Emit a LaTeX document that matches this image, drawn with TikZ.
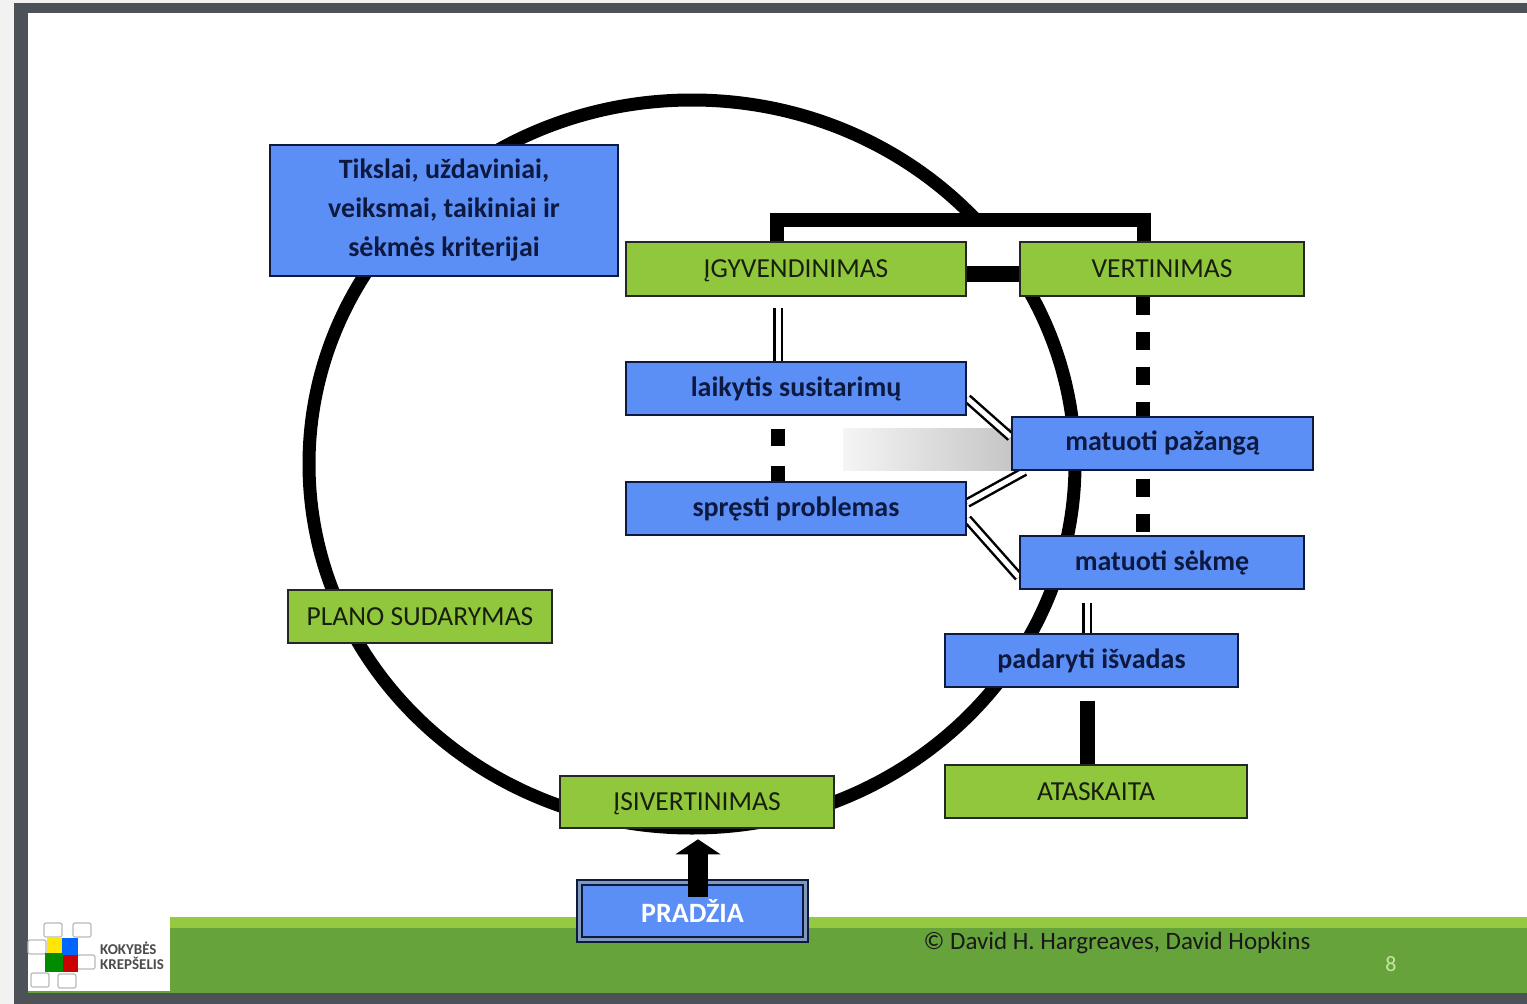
\documentclass[tikz,border=0pt]{standalone}
\usepackage{fontspec}
\setmainfont{Carlito}
\usepackage{tikz}
\usetikzlibrary{arrows.meta}
\definecolor{bluebox}{rgb}{0.36,0.56,0.96}
\definecolor{greenbox}{rgb}{0.57,0.78,0.24}
\definecolor{navyline}{rgb}{0.05,0.1,0.25}
\definecolor{darktext}{rgb}{0.1,0.12,0.06}
\definecolor{footlight}{rgb}{0.58,0.79,0.25}
\definecolor{footdark}{rgb}{0.4,0.64,0.23}
\definecolor{framegray}{rgb}{0.3,0.32,0.34}
\definecolor{pagegray}{rgb}{0.95,0.95,0.95}
\definecolor{bandgray}{rgb}{0.5,0.6,0.72}
\definecolor{pagenum}{rgb}{0.78,0.9,0.63}
\pgfdeclarelayer{bg}
\pgfsetlayers{bg,main}

\begin{document}
\begin{tikzpicture}[line cap=butt,line join=miter,x=1pt,y=-1pt,
	bluenode/.style={draw=navyline,line width=2.5pt,fill=bluebox,text=navyline,font=\fontsize{28}{39}\selectfont\bfseries,align=center,inner sep=0pt},
	greennode/.style={draw=black!85,line width=2.5pt,fill=greenbox,text=darktext,font=\fontsize{27.5}{31}\selectfont,inner sep=0pt,text depth=0pt},
	thickline/.style={line width=14pt,color=black},
	dashline/.style={line width=14pt,color=black,dash pattern=on 17pt off 20pt},
	dbl/.style={line width=2.5pt,double=white,double distance=5pt,color=black},
	logotext/.style={text=black!70,font=\fontsize{15}{16}\selectfont\bfseries,inner sep=0pt,anchor=west}]
			\useasboundingbox (0,0) rectangle (1527,1004);
			\begin{pgfonlayer}{bg}
				\fill[pagegray] (0,0) rectangle (1527,1004);
				\fill[framegray] (14,3) rectangle (1527,1004);
				\fill[white] (28,13) rectangle (1527,993);
				\fill[footlight] (28,917) rectangle (1527,928);
				\fill[footdark] (28,928) rectangle (1527,993);
				\draw[line width=13pt] (692,464) ellipse [x radius=383pt,y radius=364pt];
				\fill[white] (966,226) rectangle (1020,296);
				\shade[left color=gray!8,right color=gray!45] (843,428) rectangle (1012,470);
			\end{pgfonlayer}
			
			\node[bluenode,minimum width=348pt,minimum height=131pt] (goals) at (444,210.5) {Tikslai, uždaviniai,\\veiksmai, taikiniai ir\\sėkmės kriterijai};
			\node[greennode,minimum width=340pt,minimum height=54pt] (igy) at (796,269) {ĮGYVENDINIMAS};
			\node[greennode,minimum width=284pt,minimum height=54pt] (ver) at (1162,269) {VERTINIMAS};
			\node[bluenode,minimum width=340pt,minimum height=53pt] (lai) at (796,388.5) {laikytis susitarimų};
			\node[bluenode,minimum width=340pt,minimum height=53pt] (spr) at (796,508.5) {spręsti problemas};
			\node[bluenode,minimum width=301pt,minimum height=53pt] (paz) at (1162.5,443.5) {matuoti pažangą};
			\node[bluenode,minimum width=284pt,minimum height=53pt] (sek) at (1162,562.5) {matuoti sėkmę};
			\node[bluenode,minimum width=293pt,minimum height=53pt] (conc) at (1091.5,660.5) {padaryti išvadas};
			\node[greennode,minimum width=302pt,minimum height=53pt] (rep) at (1096,791.5) {ATASKAITA};
			\node[greennode,minimum width=264pt,minimum height=53pt] (plan) at (420,616.5) {PLANO SUDARYMAS};
			\node[greennode,minimum width=274pt,minimum height=52pt] (isvert) at (697,802) {ĮSIVERTINIMAS};
			\node[bluenode,text=white,double=bandgray,double distance=3pt,line width=1.8pt,minimum width=226pt,minimum height=57pt] (start) at (692.5,911) {PRADŽIA};
			
			\coordinate (bracket) at (960,220);
			\begin{pgfonlayer}{bg}
				\draw[thickline] ([xshift=-19pt]igy.north) |- (bracket) -| ([xshift=-18pt]ver.north);
				\draw[thickline,line width=16pt] ([yshift=-5pt]igy.east) -- ([yshift=-5pt]ver.west);
				\draw[dbl] ([xshift=-18pt,yshift=-11pt]igy.south) -- ([xshift=-18pt]lai.north);
				\draw[dashline,dash phase=24pt] ([xshift=-18pt]lai.south) -- ([xshift=-18pt]spr.north);
				\draw[dashline,dash pattern=on 18pt off 17pt] ([xshift=-19pt]ver.south) -- ([xshift=-19pt]ver.south |- paz.north);
				\draw[dashline,dash pattern=on 18pt off 17pt,dash phase=27pt] ([xshift=-19pt]ver.south |- paz.south) -- ([xshift=-19pt]ver.south |- sek.north);
				\draw[dbl] ([yshift=-10pt]lai.east) -- ([yshift=6.5pt]paz.west);
				\draw[dbl] ([yshift=5.5pt]spr.east) -- ([xshift=14pt]paz.south west);
				\draw[dbl] ([yshift=-10.5pt]spr.east) -- ([yshift=-14.5pt]sek.west);
				\draw[dbl] ([xshift=-75pt,yshift=-13pt]sek.south) -- ([xshift=-75pt]sek.south |- conc.north);
				\draw[thickline,line width=15pt] ([xshift=-4.5pt,yshift=-13pt]conc.south) -- ([xshift=-4.5pt]conc.south |- rep.north);
			\end{pgfonlayer}
			
			\coordinate (foot) at (698,897);
			\draw[line width=20pt,-{Triangle[length=15pt,width=45pt,line width=0pt]},shorten >=10pt] (foot) -- (foot |- isvert.south);
			
			\fill[white] (28,915) rectangle (170,991);
			\foreach \px/\py in {53/930,82/930,37/947,86/962,40/980,67/981}
				\draw[gray!55,line width=1.2pt,rounded corners=2pt] (\px-9,\py-7) rectangle (\px+9,\py+7);
			\fill[yellow!90!orange] (47,938) rectangle (62,953);
			\fill[blue!60!cyan] (62,938) rectangle (78,955);
			\fill[green!55!black] (45,953) rectangle (63,972);
			\fill[red!80!black] (63,955) rectangle (78,972);
			\node[logotext] (kokybes) at (100,948) {KOKYBĖS};
			\node[logotext] (krepselis) at (100,963) {KREPŠELIS};
			
			\node[text=black!90,font=\fontsize{25}{28}\selectfont,inner sep=0pt] (copy) at (1117,943) {© David H. Hargreaves, David Hopkins};
			\node[text=pagenum,font=\fontsize{22}{24}\selectfont,inner sep=0pt] (page) at (1391,964) {8};
		\end{tikzpicture}
\end{document}
